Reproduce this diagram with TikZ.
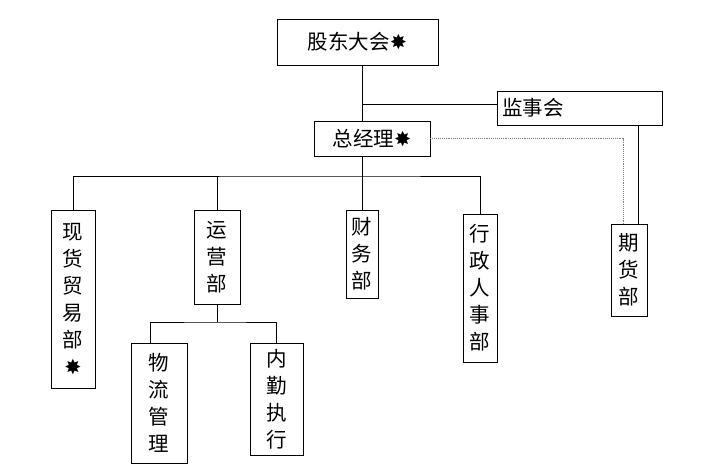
\documentclass[tikz,border=0pt]{standalone}
\usepackage{fontspec}
\setmainfont{Noto Sans CJK SC}
\newfontfamily\symf{DejaVu Sans}
\newcommand{\st}{{\symf ✸}}
\begin{document}
\begin{tikzpicture}[x=1pt,y=-1pt,
 box/.style={draw,line width=0.9pt,inner sep=0pt,font=\fontsize{20.5}{27}\selectfont,align=center},
 ln/.style={line width=0.9pt}]
\useasboundingbox[fill=white] (0,0) rectangle (718,466);
\node[box,minimum width=161,minimum height=46] (gd) at (357.5,42) {股东大会\st};
\node[box,minimum width=165,minimum height=34,text width=155,align=left] (js) at (579.5,108) {监事会};
\node[box,minimum width=116,minimum height=35] (zj) at (372,138.5) {总经理\st};
\node[box,minimum width=44,minimum height=178] (xh) at (73,299) {现\\货\\贸\\易\\部\\\st};
\node[box,minimum width=46,minimum height=94] (yy) at (217,257) {运\\营\\部};
\node[box,minimum width=32,minimum height=88] (cw) at (362,254) {财\\务\\部};
\node[box,minimum width=34,minimum height=148] (xz) at (480,288) {行\\政\\人\\事\\部};
\node[box,minimum width=36,minimum height=92] (qh) at (629,270) {期\\货\\部};
\node[box,minimum width=56,minimum height=120] (wl) at (159,403) {物\\流\\管\\理};
\node[box,minimum width=53,minimum height=112] (nq) at (276.5,399) {内\\勤\\执\\行};
\coordinate (b1) at (362,104);
\coordinate (bus) at (362,176);
\coordinate (sub) at (217,322);
\draw[ln] (gd.south -| b1) -- (zj.north -| b1);
\draw[ln] (b1) -- (js.west |- b1);
\draw[ln] (zj.south -| bus) -- (bus);
\draw[ln] (xh.north) |- (bus) -| (xz.north);
\draw[ln] (bus -| yy) -- (yy.north);
\draw[ln] (bus) -- (cw.north);
\draw[ln] (yy.south) -- (sub);
\draw[ln] (wl.north -| 150,0) |- (sub) -| (nq.north);
\draw[ln] (js.south -| 638,0) -- (qh.north -| 638,0);
\draw[line width=0.9pt,densely dotted,gray] (zj.east) -| (qh.north -| 623,0);
\end{tikzpicture}
\end{document}
